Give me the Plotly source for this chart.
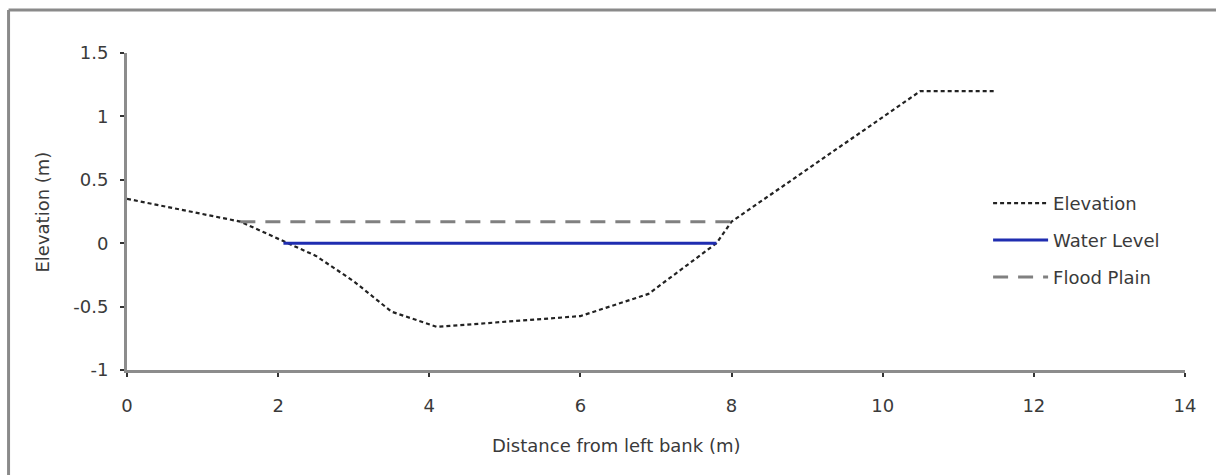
import plotly.graph_objects as go

# Cross-section survey of the channel
distance = [0, 1.5, 2.5, 3.0, 3.5, 4.1, 6.0, 6.9, 7.8, 8.0, 10.5, 11.5]
elevation = [0.35, 0.17, -0.1, -0.3, -0.54, -0.66, -0.575, -0.4, 0.0, 0.17, 1.2, 1.2]

water_x = [2.07, 7.8]
water_y = [0.0, 0.0]

flood_x = [1.5, 8.0]
flood_y = [0.17, 0.17]

x_ticks = [0, 2, 4, 6, 8, 10, 12, 14]
y_ticks = [-1, -0.5, 0, 0.5, 1, 1.5]
y_tick_text = ["-1", "-0.5", "0", "0.5", "1", "1.5"]

FONT = "DejaVu Sans"
TEXT = "#3a3a3a"
AXIS = "#8c8c8c"
FS = 18

W, H = 1222, 475
L, R, T, B = 126.5, 37, 53, 105
PW, PH = W - L - R, H - T - B


def px(xp):
    return (xp - L) / PW


def py(yp):
    return (H - B - yp) / PH


fig = go.Figure()
fig.add_trace(go.Scatter(
    x=distance, y=elevation, mode="lines", name="Elevation",
    line=dict(color="#222222", width=2.2, dash="4px,3px"),
    legendgroup="a",
))
fig.add_trace(go.Scatter(
    x=water_x, y=water_y, mode="lines", name="Water Level",
    line=dict(color="#1f2db0", width=3),
    legendgroup="b",
))
fig.add_trace(go.Scatter(
    x=flood_x, y=flood_y, mode="lines", name="Flood Plain",
    line=dict(color="#808080", width=3, dash="15px,10px"),
    legendgroup="c",
))

fig.update_xaxes(
    range=[0, 14], tickvals=x_ticks, showgrid=False, zeroline=False,
    showline=True, linecolor=AXIS, linewidth=3,
    ticks="outside", ticklen=4, tickwidth=2, tickcolor="#333",
    tickfont=dict(family=FONT, size=FS, color=TEXT),
    ticklabelstandoff=13,
)
fig.update_yaxes(
    range=[-1, 1.5], tickvals=y_ticks, ticktext=y_tick_text,
    showgrid=False, zeroline=False,
    showline=True, linecolor=AXIS, linewidth=3,
    ticks="outside", ticklen=4, tickwidth=2, tickcolor="#333",
    tickfont=dict(family=FONT, size=FS, color=TEXT),
    ticklabelstandoff=8,
)

fig.add_annotation(
    text="Distance from left bank (m)", xref="paper", yref="paper",
    x=px(616), y=py(445), xanchor="center", yanchor="middle",
    showarrow=False,
    font=dict(family=FONT, size=FS, color=TEXT),
)
fig.add_annotation(
    text="Elevation (m)", xref="paper", yref="paper",
    x=px(41), y=py(212), xanchor="center", yanchor="middle",
    showarrow=False, textangle=-90,
    font=dict(family=FONT, size=FS, color=TEXT),
)

# Outer chart frame (top and left edges)
fig.add_shape(type="line", xref="paper", yref="paper",
              x0=px(8), x1=px(1216), y0=py(10), y1=py(10),
              line=dict(color="#8a8a8a", width=3))
fig.add_shape(type="line", xref="paper", yref="paper",
              x0=px(8), x1=px(8), y0=py(10), y1=py(475),
              line=dict(color="#8a8a8a", width=3))

fig.update_layout(
    width=W, height=H,
    margin=dict(l=L, r=R, t=T, b=B),
    paper_bgcolor="white", plot_bgcolor="white",
    showlegend=True,
    legend=dict(
        x=px(988), y=py(185), xanchor="left", yanchor="top",
        font=dict(family=FONT, size=FS, color=TEXT),
        tracegroupgap=10.5, itemwidth=55, bgcolor="rgba(0,0,0,0)",
    ),
)

fig.write_html("out.html")
